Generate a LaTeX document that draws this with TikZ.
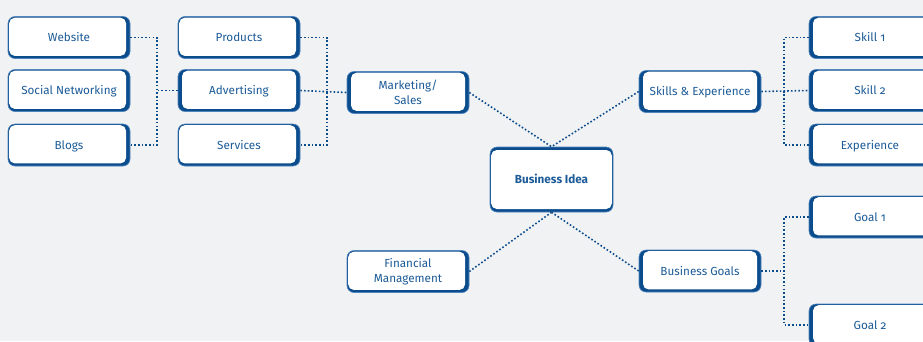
\documentclass[tikz,border=0pt]{standalone}
\usepackage{fontspec}
\setmainfont{Fira Sans}[Numbers=OldStyle]
\usetikzlibrary{calc}
\definecolor{bg}{HTML}{F1F2F4}
\definecolor{dark}{HTML}{0B4C8C}
\definecolor{edge}{HTML}{4F84BC}
\definecolor{txt}{HTML}{1C5B98}
\tikzset{
  % box with a heavier frame on the sides given as: left, right, top, bottom inset
  bx/.style n args={4}{draw=edge, line width=0.6pt, fill=dark, rounded corners=7pt,
    minimum width=122pt, minimum height=42pt, text=txt, align=center,
    font=\fontsize{11.7}{14.5}\selectfont, inner sep=0pt,
    text height=10pt, text depth=2pt,
    path picture={\fill[white, rounded corners=5.5pt]
      ([shift={(#1,#4)}]path picture bounding box.south west) rectangle
      ([shift={(-#2,-#3)}]path picture bounding box.north east);}},
  lbox/.style={bx={1.2pt}{4pt}{1.2pt}{2.6pt}},
  rbox/.style={bx={4pt}{1.2pt}{1.2pt}{2.6pt}},
  mbox/.style={bx={4pt}{4pt}{1.2pt}{2.6pt}},
  twoline/.style={text height=, text depth=},
  link/.style={draw=dark, line width=1.6pt, dash pattern=on 1.6pt off 2.1pt},
}
\begin{document}
\begin{tikzpicture}[x=1pt,y=-1pt]
\useasboundingbox[fill=bg] (0,0) rectangle (923,341);
\begin{scope}
\clip (0,0) rectangle (923,341);
% left branch
\node[lbox] (web)  at (69,37.5)  {Website};
\node[lbox] (soc)  at (69,90.5)  {Social Networking};
\node[lbox] (blog) at (69,145)   {Blogs};
\node[lbox] (prod) at (239,37.5) {Products};
\node[mbox] (adv)  at (239,90.5) {Advertising};
\node[lbox] (serv) at (239,145)  {Services};
\node[mbox, twoline] (mkt) at (408,92.5) {Marketing/\\Sales};
\node[lbox, twoline] (fin) at (408,271.5) {Financial\\Management};
% centre
\node[bx={1.2pt}{1.2pt}{3pt}{3pt}, minimum width=123pt, minimum height=65pt,
      font=\fontsize{11.7}{14.5}\selectfont\bfseries] (idea) at (551.5,179.5) {Business Idea};
% right branch
\node[mbox] (skl)  at (700,91.5)  {Skills \& Experience};
\node[mbox] (goal) at (700,271)   {Business Goals};
\node[rbox] (s1)   at (870,37.5)  {Skill 1};
\node[rbox] (s2)   at (870,90.5)  {Skill 2};
\node[rbox] (exp)  at (870,145)   {Experience};
\node[rbox] (g1)   at (870,217)   {Goal 1};
\node[rbox] (g2)   at (870,325)   {Goal 2};
% junctions
\coordinate (j1) at (157,90.5);
\coordinate (j2) at (327,90.5);
\coordinate (j3) at (784,91.5);
\coordinate (j4) at (784,271);
% connectors
\draw[link] (web.east) -| (j1) |- (blog.east);
\draw[link] (adv.west) -- (j1);
\draw[link] (prod.east) -| (j2) |- (serv.east);
\draw[link] (adv.east) -- (mkt.west);
\draw[link] (mkt.east) -- (idea.north);
\draw[link] (skl.west) -- (idea.north);
\draw[link] (fin.east) -- (idea.south);
\draw[link] (goal.west) -- (idea.south);
\draw[link] (s1.west) -| (j3) |- (exp.west);
\draw[link] (skl.east) -- (s2.west);
\draw[link] (g1.west) -| (j4) |- (g2.west);
\draw[link] (goal.east) -- (j4);
\end{scope}
\end{tikzpicture}
\end{document}
